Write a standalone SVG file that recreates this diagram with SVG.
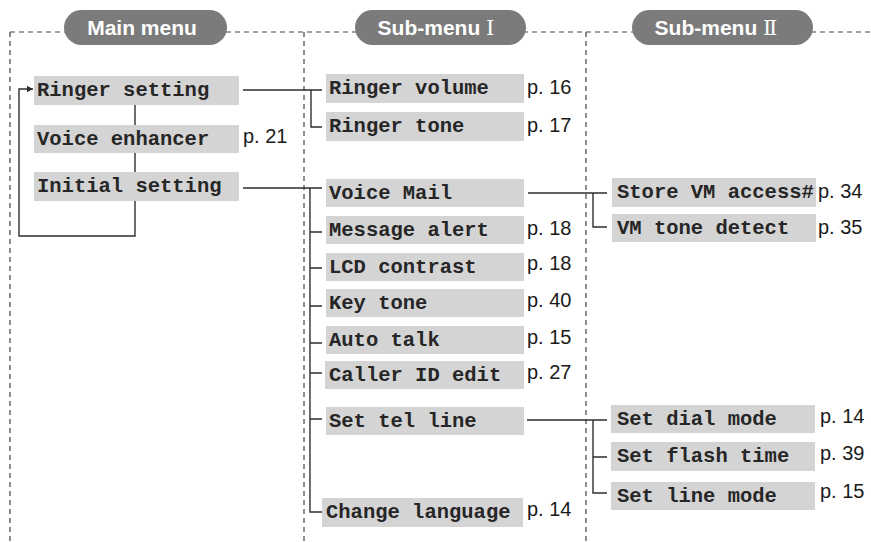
<svg xmlns="http://www.w3.org/2000/svg" width="871" height="542" viewBox="0 0 871 542">
<style>
.dash{stroke:#444;stroke-width:1.2;stroke-dasharray:5 4;fill:none}
.pill{fill:#7b7b7c}
.pt{font-family:"Liberation Sans",Arial,sans-serif;font-weight:bold;font-size:21px;fill:#fff;text-anchor:middle}
.rn{font-family:"DejaVu Serif","Liberation Serif","Noto Sans CJK JP",serif;font-weight:normal}
.box{fill:#d4d4d5}
.mt{font-family:"Liberation Mono","Courier New",monospace;font-weight:bold;font-size:20.5px;fill:#262626}
.pg{font-family:"Liberation Sans",Arial,sans-serif;font-size:20px;fill:#1a1a1a}
.ln{stroke:#2e2e2e;stroke-width:1.4;fill:none}
</style>
<defs>
<marker id="ah" markerWidth="8" markerHeight="8" refX="6" refY="4" orient="auto" markerUnits="userSpaceOnUse">
<path d="M0,0.8 L6,4 L0,7.2 Z" fill="#2e2e2e"/>
</marker>
</defs>
<rect width="871" height="542" fill="#fff"/>
<g id="frame">
<line class="dash" x1="10" y1="32" x2="871" y2="32"/>
<line class="dash" x1="10" y1="32" x2="10" y2="542"/>
<line class="dash" x1="304" y1="32" x2="304" y2="542"/>
<line class="dash" x1="586" y1="32" x2="586" y2="542"/>
</g>
<g id="connectors">
<path class="ln" d="M135,105 V236 H19 V89 H33" marker-end="url(#ah)" stroke-width="1.6"/>
<path class="ln" d="M243,90 H322 M311,90 V127 H322"/>
<path class="ln" d="M243,188 H322 M310,188 V512 H322 M310,232 H322 M310,268 H322 M310,306 H322 M310,343 H322 M310,373 H322 M310,419 H322"/>
<path class="ln" d="M528,193 H607 M593,193 V227 H607"/>
<path class="ln" d="M527,420 H607 M593,420 V493 H607 M593,457 H607"/>
</g>
<g id="head-main"><rect class="pill" x="64" y="10" width="163" height="35" rx="17.5"/><text class="pt" x="142" y="35">Main menu</text></g>
<g id="head-sub1"><rect class="pill" x="355" y="10" width="171" height="35" rx="17.5"/><text class="pt" x="436" y="35">Sub-menu <tspan class="rn">Ⅰ</tspan></text></g>
<g id="head-sub2"><rect class="pill" x="632" y="10" width="181" height="35" rx="17.5"/><text class="pt" x="716" y="35">Sub-menu <tspan class="rn">Ⅱ</tspan></text></g>

<g id="ringer-setting"><rect class="box" x="34" y="76" width="205" height="29"/><text class="mt" x="37" y="96">Ringer setting</text></g>
<g id="voice-enhancer"><rect class="box" x="34" y="125" width="205" height="28"/><text class="mt" x="37" y="145">Voice enhancer</text><text class="pg" x="243" y="143">p. 21</text></g>
<g id="initial-setting"><rect class="box" x="34" y="172" width="205" height="29"/><text class="mt" x="37" y="192">Initial setting</text></g>

<g id="ringer-volume"><rect class="box" x="326" y="74" width="198" height="29"/><text class="mt" x="329" y="94">Ringer volume</text><text class="pg" x="527" y="94">p. 16</text></g>
<g id="ringer-tone"><rect class="box" x="326" y="112" width="198" height="29"/><text class="mt" x="329" y="132">Ringer tone</text><text class="pg" x="527" y="132">p. 17</text></g>
<g id="voice-mail"><rect class="box" x="326" y="179" width="198" height="28"/><text class="mt" x="329" y="199">Voice Mail</text></g>
<g id="message-alert"><rect class="box" x="326" y="216" width="198" height="28"/><text class="mt" x="329" y="236">Message alert</text><text class="pg" x="527" y="235">p. 18</text></g>
<g id="lcd-contrast"><rect class="box" x="326" y="253" width="198" height="28"/><text class="mt" x="329" y="273">LCD contrast</text><text class="pg" x="527" y="270">p. 18</text></g>
<g id="key-tone"><rect class="box" x="326" y="289" width="198" height="28"/><text class="mt" x="329" y="309">Key tone</text><text class="pg" x="527" y="307">p. 40</text></g>
<g id="auto-talk"><rect class="box" x="326" y="326" width="198" height="28"/><text class="mt" x="329" y="346">Auto talk</text><text class="pg" x="527" y="344">p. 15</text></g>
<g id="caller-id-edit"><rect class="box" x="325" y="361" width="199" height="28"/><text class="mt" x="329" y="381">Caller ID edit</text><text class="pg" x="527" y="379">p. 27</text></g>
<g id="set-tel-line"><rect class="box" x="326" y="407" width="198" height="28"/><text class="mt" x="329" y="427">Set tel line</text></g>
<g id="change-language"><rect class="box" x="322" y="498" width="201" height="29"/><text class="mt" x="326" y="518">Change language</text><text class="pg" x="527" y="516">p. 14</text></g>

<g id="store-vm"><rect class="box" x="612" y="178" width="204" height="29"/><text class="mt" x="617" y="198">Store VM access#</text><text class="pg" x="818" y="198">p. 34</text></g>
<g id="vm-tone-detect"><rect class="box" x="612" y="214" width="204" height="28"/><text class="mt" x="617" y="234">VM tone detect</text><text class="pg" x="818" y="234">p. 35</text></g>
<g id="set-dial-mode"><rect class="box" x="611" y="405" width="204" height="28"/><text class="mt" x="617" y="425">Set dial mode</text><text class="pg" x="820" y="423">p. 14</text></g>
<g id="set-flash-time"><rect class="box" x="611" y="442" width="204" height="29"/><text class="mt" x="617" y="462">Set flash time</text><text class="pg" x="820" y="460">p. 39</text></g>
<g id="set-line-mode"><rect class="box" x="611" y="482" width="204" height="28"/><text class="mt" x="617" y="502">Set line mode</text><text class="pg" x="820" y="498">p. 15</text></g>
</svg>
